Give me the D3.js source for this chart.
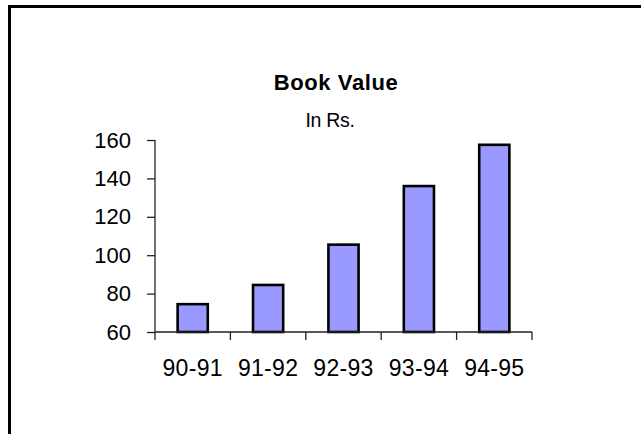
<!DOCTYPE html>
<html>
<head>
<meta charset="utf-8">
<script src="https://cdn.jsdelivr.net/npm/d3@7"></script>
<style>
  html, body { margin: 0; padding: 0; background: #fff; }
  svg { display: block; }
  text { font-family: "Liberation Sans", Arial, sans-serif; fill: #000; }
</style>
</head>
<body>
<svg id="chart" width="641" height="434"></svg>
<script>
// Book value per share, by financial year (Rs.)
const years = ["90-91", "91-92", "92-93", "93-94", "94-95"];
const bookValue = [74.5, 84.5, 105.5, 136, 157.5];
const yTicks = [60, 80, 100, 120, 140, 160];
const titleText = "Book Value";
const subtitleText = "In Rs.";

const svg = d3.select("#chart");

// chart frame (top and left edges)
svg.append("path")
  .attr("d", "M9.5,434 V6.5 H641")
  .attr("fill", "none")
  .attr("stroke", "#000")
  .attr("stroke-width", 3);

const plot = { left: 155, right: 532, top: 140, bottom: 332 };

const x = d3.scaleBand()
  .domain(years)
  .range([plot.left, plot.right])
  .paddingInner(0.6)
  .paddingOuter(0.3);

const y = d3.scaleLinear()
  .domain([d3.min(yTicks), d3.max(yTicks)])
  .range([plot.bottom, plot.top]);

// titles
svg.append("text")
  .attr("x", 336).attr("y", 90)
  .attr("text-anchor", "middle")
  .style("font-size", "22px")
  .style("font-weight", "bold")
  .style("letter-spacing", "0.6px")
  .text(titleText);

svg.append("text")
  .attr("x", 330).attr("y", 126.5)
  .attr("text-anchor", "middle")
  .style("font-size", "19.5px")
  .style("letter-spacing", "-0.3px")
  .text(subtitleText);

// bars
svg.append("g")
  .selectAll("rect")
  .data(years.map((yr, i) => ({ yr, v: bookValue[i] })))
  .join("rect")
  .attr("x", d => x(d.yr))
  .attr("y", d => y(d.v))
  .attr("width", x.bandwidth())
  .attr("height", d => y(y.domain()[0]) - y(d.v))
  .attr("fill", "#9999FF")
  .attr("stroke", "#000")
  .attr("stroke-width", 2.6);

// y axis
const yAxis = svg.append("g")
  .attr("transform", `translate(${plot.left},0)`)
  .call(d3.axisLeft(y).tickValues(yTicks).tickSize(8).tickPadding(16).tickFormat(d3.format("d")));
yAxis.select(".domain").attr("d", `M0,${plot.top}V${plot.bottom}`);
yAxis.selectAll(".domain, .tick line").attr("stroke", "#222").attr("stroke-width", 1.3);
yAxis.selectAll("text")
  .style("font-size", "22px")
  .style("font-family", "'Liberation Sans', Arial, sans-serif")
  .attr("fill", "#000");

// x axis: line, ticks on category boundaries, centred labels
const xAxis = svg.append("g")
  .attr("transform", `translate(0,${plot.bottom})`);
xAxis.append("line")
  .attr("x1", plot.left).attr("x2", plot.right)
  .attr("stroke", "#222").attr("stroke-width", 1.3);
const step = x.step();
xAxis.selectAll("line.tick")
  .data(d3.range(years.length + 1))
  .join("line")
  .attr("class", "tick")
  .attr("x1", i => plot.left + i * step)
  .attr("x2", i => plot.left + i * step)
  .attr("y1", 0).attr("y2", 8)
  .attr("stroke", "#222").attr("stroke-width", 1.3);
xAxis.selectAll("text")
  .data(years)
  .join("text")
  .attr("x", d => x(d) + x.bandwidth() / 2)
  .attr("y", 44)
  .attr("text-anchor", "middle")
  .style("font-size", "23px")
  .style("letter-spacing", "0.3px")
  .text(d => d);
</script>
</body>
</html>
